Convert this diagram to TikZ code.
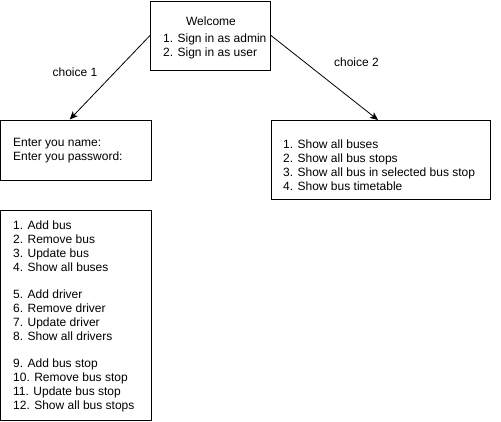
\documentclass[tikz,border=0pt]{standalone}
\usepackage{fontspec}
\setmainfont{Liberation Sans}
\usetikzlibrary{arrows.meta}

\begin{document}
\begin{tikzpicture}
                [
                x=1pt, y=-1pt,
                every node/.style={font=\fontsize{12pt}{14pt}\selectfont, inner sep=0pt},
                box/.style={rectangle, draw=black, line width=1pt},
                menu/.style={align=left, anchor=north west},
                arrow/.style={-{Stealth[length=8pt,width=7pt,inset=2pt]}, line width=0.8pt},
                ]
                \useasboundingbox (0,0) rectangle (501,421);
                % boxes
                \node[box, minimum width=120pt, minimum height=69pt] (welcome) at (210.5,35.5) {};
                \node[box, minimum width=150.5pt, minimum height=60pt] (login) at (75.75,150) {};
                \node[box, minimum width=219pt, minimum height=79pt] (user) at (380.5,160) {};
                \node[box, minimum width=150.5pt, minimum height=210pt] (admin) at (75.75,315) {};
                % texts
                \node (welcometitle) at (211,21) {Welcome};
                \node[menu] (signin) at (163,33.5) {1. Sign in as admin\\2. Sign in as user};
                \node[menu] (logintext) at (13,138.5) {Enter you name:\\Enter you password:};
                \node[menu] (usermenu) at (283,139.5) {1. Show all buses\\2. Show all bus stops\\
                        3. Show all bus in selected bus stop\\4. Show bus timetable};
                \node[menu] (adminmenu) at (13,220.5) {1. Add bus\\2. Remove bus\\3. Update bus\\4. Show all buses\\[13pt]
                        5. Add driver\\6. Remove driver\\7. Update driver\\8. Show all drivers\\[13pt]
                        9. Add bus stop\\10. Remove bus stop\\11. Update bus stop\\12. Show all bus stops};
                % choices
                \draw[arrow] (welcome.west) -- ([xshift=-6pt]login.north);
                \draw[arrow] (welcome.east) -- ([xshift=-2.5pt]user.north);
                \node (choiceone) at (75,72) {choice 1};
                \node (choicetwo) at (356.5,62.5) {choice 2};
            \end{tikzpicture}
\end{document}
